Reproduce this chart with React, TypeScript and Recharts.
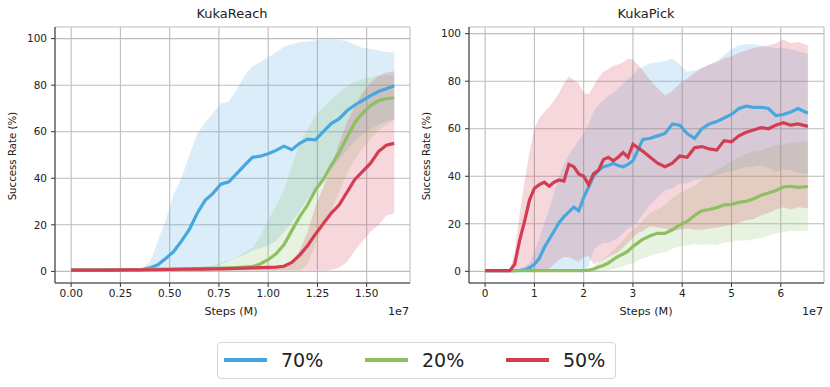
import React from 'react';
import { ComposedChart, Area, Line, XAxis, YAxis, CartesianGrid } from 'recharts';

const BLUE = '#47a7df';
const GREEN = '#8cc063';
const RED = '#d33c52';
const FONT = 'DejaVu Sans, Verdana, sans-serif';

const seriesNames = ['70%', '20%', '50%'];
const seriesColors = [BLUE, GREEN, RED];

const yTicks = [0, 20, 40, 60, 80, 100];
const reachXTicks = [0, 0.25, 0.5, 0.75, 1.0, 1.25, 1.5];
const pickXTicks = [0, 1, 2, 3, 4, 5, 6];

// ---- KukaReach (steps in 1e7) ----
const reachX = [0, 0.1, 0.2, 0.3, 0.36, 0.4, 0.44, 0.48, 0.52, 0.56, 0.6, 0.64, 0.68, 0.72, 0.76, 0.8, 0.84, 0.88, 0.92, 0.96, 1.0, 1.04, 1.08, 1.12, 1.16, 1.2, 1.24, 1.28, 1.32, 1.36, 1.4, 1.44, 1.48, 1.52, 1.56, 1.6, 1.64];
const reachMean70 = [0.5, 0.5, 0.6, 0.7, 0.8, 1.5, 2.8, 5.5, 8.5, 13, 18, 25, 30.5, 33.5, 37.5, 38.5, 42, 45.5, 49, 49.5, 50.5, 52, 53.8, 52.3, 55, 56.8, 56.5, 60, 63.5, 65.5, 69, 71.5, 73.5, 75.5, 77.3, 78.5, 79.8];
const reachHigh70 = [0.5, 0.5, 0.6, 0.8, 1.2, 4, 13, 22, 33, 40, 50, 59, 64, 68, 72, 73, 78, 84, 88, 90, 92, 94, 96.5, 97.5, 98.5, 98.8, 99.3, 99.5, 99.6, 99.4, 99, 97.5, 96, 95.5, 95, 94.3, 94];
const reachLow70 = [0.4, 0.4, 0.4, 0.4, 0.4, 0.4, 0.4, 0.4, 0.4, 0.4, 0.4, 0.4, 0.4, 0.4, 3, 4.5, 6, 7, 9, 10, 11, 13, 17, 21, 26, 31, 36, 40, 44, 48, 52, 56, 59, 61, 63, 64.5, 65];
const reachMean20 = [0.5, 0.5, 0.6, 0.7, 0.8, 0.9, 1.0, 1.0, 1.1, 1.1, 1.2, 1.2, 1.3, 1.3, 1.4, 1.5, 1.6, 1.8, 2.0, 3.2, 5, 7.5, 11.4, 17.5, 23.5, 28.5, 35, 39.5, 45.5, 51, 57.5, 64, 68, 71.3, 73.3, 74.2, 74.5];
const reachHigh20 = [0.5, 0.5, 0.6, 0.7, 0.8, 0.9, 1.0, 1.1, 1.2, 1.2, 1.3, 1.5, 2, 2.5, 3.5, 5, 6, 8, 10, 15, 22, 28, 35, 45, 55, 61, 67, 70.5, 74, 77, 79.5, 81.5, 82.5, 83.5, 84, 84.2, 84.3];
const reachLow20 = [0.4, 0.4, 0.4, 0.4, 0.4, 0.4, 0.4, 0.4, 0.4, 0.4, 0.4, 0.4, 0.4, 0.4, 0.4, 0.4, 0.4, 0.4, 0.4, 0.4, 0.4, 0.4, 0.4, 0.4, 0.4, 3, 12, 19, 26, 34, 42, 48, 53, 57, 60.5, 63, 65];
const reachMean50 = [0.5, 0.5, 0.5, 0.6, 0.6, 0.7, 0.7, 0.8, 0.8, 0.9, 0.9, 1.0, 1.0, 1.1, 1.1, 1.2, 1.3, 1.4, 1.5, 1.6, 1.7, 1.8, 2.2, 3.8, 7, 11, 16, 20.5, 25, 28.5, 34, 39.5, 43, 46.5, 51.5, 54.2, 55];
const reachHigh50 = [0.5, 0.5, 0.5, 0.6, 0.6, 0.7, 0.7, 0.8, 0.8, 0.9, 0.9, 1.0, 1.0, 1.1, 1.1, 1.2, 1.3, 1.4, 1.5, 1.6, 1.7, 1.8, 2.5, 4, 9, 17, 28, 36, 45, 55, 64, 71, 77, 81, 84, 85.5, 86];
const reachLow50 = [0.4, 0.4, 0.4, 0.4, 0.4, 0.4, 0.4, 0.4, 0.4, 0.4, 0.4, 0.4, 0.4, 0.4, 0.4, 0.4, 0.4, 0.4, 0.4, 0.4, 0.4, 0.4, 0.4, 0.4, 0.4, 0.4, 0.4, 0.4, 0.6, 1.5, 4, 9, 13, 17, 20, 24, 25];

// ---- KukaPick (steps in 1e7) ----
const pickX = [0, 0.25, 0.5, 0.6, 0.7, 0.8, 0.9, 1.0, 1.1, 1.2, 1.3, 1.4, 1.5, 1.6, 1.7, 1.8, 1.9, 2.0, 2.1, 2.2, 2.3, 2.4, 2.5, 2.6, 2.7, 2.8, 2.9, 3.0, 3.1, 3.2, 3.35, 3.5, 3.65, 3.8, 3.95, 4.1, 4.25, 4.4, 4.55, 4.7, 4.85, 5.0, 5.15, 5.3, 5.45, 5.6, 5.75, 5.9, 6.05, 6.2, 6.35, 6.55];
const pickMean70 = [0.3, 0.3, 0.3, 0.3, 0.4, 0.6, 1.5, 3, 5.5, 10, 13.5, 17, 20.5, 23, 25, 27, 25.5, 31, 35.5, 40, 42.5, 44, 44.5, 45.5, 44.5, 44, 45, 46.5, 51, 55.5, 56, 57, 58, 62, 61.5, 58, 56, 60, 62, 63, 64.5, 66, 68.5, 69.5, 69, 69, 68.5, 65.5, 66, 67, 68.5, 66.5];
const pickHigh70 = [0.3, 0.3, 0.3, 0.5, 1, 2, 3.5, 8, 14, 20, 26, 33, 40, 45, 49, 52, 55, 58, 62, 67, 70, 72, 74, 75, 77, 79, 81, 82.5, 85, 86, 87.5, 88, 88.5, 89.5, 87, 84, 84.5, 85.5, 87, 88.5, 91, 93.5, 95, 95.5, 95.5, 95, 94.5, 94, 94, 93.5, 92.5, 91.5];
const pickLow70 = [0.2, 0.2, 0.2, 0.2, 0.2, 0.2, 0.2, 0.2, 0.2, 0.2, 0.2, 0.2, 0.2, 0.2, 0.2, 0.2, 0.2, 0.5, 2, 9, 11, 12, 12, 13, 14, 16, 18, 19, 21, 24, 28, 31, 34, 35, 37, 37, 38.5, 39, 40, 40.5, 41.5, 42, 43, 44, 44, 44.5, 43.5, 42, 43, 42.5, 41.5, 41];
const pickMean20 = [0.3, 0.3, 0.3, 0.3, 0.3, 0.3, 0.3, 0.3, 0.3, 0.3, 0.3, 0.3, 0.3, 0.3, 0.3, 0.3, 0.3, 0.3, 0.5, 1, 1.8, 2.5, 3.5, 5, 6.3, 7.3, 8.5, 10.5, 12, 13.5, 15, 16, 16, 17.5, 19.5, 21, 23.5, 25.5, 26, 26.8, 28, 28.2, 29, 29.5, 30.5, 32, 33, 34, 35.5, 35.8, 35.3, 35.7];
const pickHigh20 = [0.3, 0.3, 0.3, 0.3, 0.3, 0.3, 0.3, 0.3, 0.3, 0.3, 0.3, 0.3, 0.3, 0.3, 0.3, 0.3, 0.3, 0.3, 0.5, 2, 4, 5.5, 7, 9, 11, 13, 15.5, 17.5, 19, 21.5, 24.5, 26, 28, 31, 33, 34.5, 36, 38.5, 41, 42.5, 44.5, 46.5, 48, 49.5, 50.5, 51, 52, 53, 53.5, 54, 54.5, 54.5];
const pickLow20 = [0.2, 0.2, 0.2, 0.2, 0.2, 0.2, 0.2, 0.2, 0.2, 0.2, 0.2, 0.2, 0.2, 0.2, 0.2, 0.2, 0.2, 0.2, 0.2, 0.2, 0.2, 0.2, 0.5, 1, 1.5, 2, 3, 3.5, 4.5, 5.5, 6.5, 7.5, 8, 9.5, 10.5, 11, 11.5, 11, 11.5, 11, 12, 12.5, 13, 13, 13.5, 14, 15, 16, 16.5, 17, 17, 17];
const pickMean50 = [0.3, 0.3, 0.3, 3, 13, 21, 30, 35, 36.5, 37.5, 35.8, 37.5, 38.5, 38, 45, 44, 41, 40, 36.5, 41, 42.5, 47, 48, 46.5, 48, 50, 48, 53.5, 52, 50.5, 48, 45.5, 44, 45.5, 48.5, 48, 52, 52.5, 51.5, 51, 55, 54.5, 57, 58.5, 59.5, 60.5, 60, 61.5, 62.5, 61.5, 62, 61];
const pickHigh50 = [0.3, 0.3, 0.5, 8, 24, 38, 50, 60, 64.5, 67, 69, 72, 75, 79, 82, 80.5, 79, 75, 74.5, 78, 81.5, 84, 85, 86.5, 87, 88, 89.5, 89, 87, 84.5, 80.5, 77, 74, 76, 79, 81, 83.5, 85.5, 87, 88, 89.5, 90.5, 92, 93, 94, 94.5, 95, 96, 97.5, 96, 96.5, 95];
const pickLow50 = [0.2, 0.2, 0.2, 0.2, 0.2, 0.2, 0.2, 0.2, 0.2, 0.2, 1, 3, 5, 6, 6, 5, 4, 6, 6.5, 3, 4, 5, 6, 7, 8, 10, 12, 14, 16, 17, 19, 18.5, 18, 17, 17.5, 18, 17.5, 17.5, 18, 18.5, 19, 19.5, 20.5, 21.5, 22, 23.5, 24.5, 26, 27, 26, 27, 26.5];

type Row = { x: number; m70: number; r70: number[]; m20: number; r20: number[]; m50: number; r50: number[] };

function buildRows(xs: number[], m70: number[], lo70: number[], hi70: number[], m20: number[], lo20: number[], hi20: number[], m50: number[], lo50: number[], hi50: number[]): Row[] {
  return xs.map((x, i) => ({
    x,
    m70: m70[i], r70: [lo70[i], hi70[i]],
    m20: m20[i], r20: [lo20[i], hi20[i]],
    m50: m50[i], r50: [lo50[i], hi50[i]],
  }));
}

const reachRows = buildRows(reachX, reachMean70, reachLow70, reachHigh70, reachMean20, reachLow20, reachHigh20, reachMean50, reachLow50, reachHigh50);
const pickRows = buildRows(pickX, pickMean70, pickLow70, pickHigh70, pickMean20, pickLow20, pickHigh20, pickMean50, pickLow50, pickHigh50);

const tickStyle = { fill: '#222', fontSize: 10.5, fontFamily: FONT };

function Panel(props: { rows: Row[]; xDomain: number[]; yDomain: number[]; xTicks: number[]; fmt: (v: number) => string; yWidth: number; right: number }) {
  const { rows, xDomain, yDomain, xTicks, fmt, yWidth, right } = props;
  const keys = [['r70', 'm70'], ['r20', 'm20'], ['r50', 'm50']];
  return (
    <ComposedChart width={415} height={330} data={rows} margin={{ top: 27, right, bottom: 27, left: 0 }}>
      <CartesianGrid stroke="#bdbdbd" strokeWidth={1.1} />
      <XAxis dataKey="x" type="number" domain={xDomain} ticks={xTicks} interval={0} allowDataOverflow tickFormatter={fmt}
        height={20} tickSize={4} tickMargin={3} stroke="#333" tick={tickStyle} />
      <YAxis type="number" domain={yDomain} ticks={yTicks} interval={0} allowDataOverflow width={yWidth}
        tickSize={4} tickMargin={4} stroke="#333" tick={tickStyle} />
      <XAxis xAxisId="top" orientation="top" type="number" domain={xDomain} allowDataOverflow height={0} tick={false} tickLine={false} stroke="#333" />
      <YAxis yAxisId="right" orientation="right" type="number" domain={yDomain} allowDataOverflow width={0} tick={false} tickLine={false} stroke="#333" />
      {keys.map(([r], i) => (
        <Area key={r} dataKey={r} type="linear" stroke="none" fill={seriesColors[i]} fillOpacity={0.2} isAnimationActive={false} activeDot={false} />
      ))}
      {keys.map(([, m], i) => (
        <Line key={m} dataKey={m} type="linear" stroke={seriesColors[i]} strokeWidth={3.2} dot={false} activeDot={false} isAnimationActive={false} />
      ))}
    </ComposedChart>
  );
}

const txt: React.CSSProperties = { position: 'absolute', fontFamily: FONT, color: '#222', lineHeight: 1, whiteSpace: 'nowrap' };

export default function App() {
  return (
    <div style={{ position: 'absolute', left: 0, top: 0, width: 830, height: 387, background: '#fff', overflow: 'hidden' }}>
      <div style={{ position: 'absolute', left: 0, top: 0 }}>
        <Panel rows={reachRows} xDomain={[-0.082, 1.72]} yDomain={[-5, 105]} xTicks={reachXTicks} fmt={(v) => v.toFixed(2)} yWidth={55} right={5} />
      </div>
      <div style={{ position: 'absolute', left: 415, top: 0 }}>
        <Panel rows={pickRows} xDomain={[-0.3275, 6.8775]} yDomain={[-4.9, 102.8]} xTicks={pickXTicks} fmt={(v) => String(v)} yWidth={54} right={6} />
      </div>

      <div style={{ ...txt, left: 132, width: 200, top: 7, textAlign: 'center', fontSize: 13 }}>KukaReach</div>
      <div style={{ ...txt, left: 546, width: 200, top: 7, textAlign: 'center', fontSize: 13 }}>KukaPick</div>

      <div style={{ ...txt, left: 131, width: 200, top: 306, textAlign: 'center', fontSize: 11.2 }}>Steps (M)</div>
      <div style={{ ...txt, left: 546, width: 200, top: 306, textAlign: 'center', fontSize: 11.2 }}>Steps (M)</div>
      <div style={{ ...txt, left: 388, top: 306, fontSize: 11.2 }}>1e7</div>
      <div style={{ ...txt, left: 802, top: 306, fontSize: 11.2 }}>1e7</div>

      <div style={{ ...txt, left: 13 - 80, width: 160, top: 156 - 5, textAlign: 'center', fontSize: 10.2, transform: 'rotate(-90deg)' }}>Success Rate (%)</div>
      <div style={{ ...txt, left: 427 - 80, width: 160, top: 156 - 5, textAlign: 'center', fontSize: 10.2, transform: 'rotate(-90deg)' }}>Success Rate (%)</div>

      <div style={{ position: 'absolute', left: 217, top: 342, width: 399, height: 37, boxSizing: 'border-box', border: '1px solid #d6d6d6', borderRadius: 4 }}>
        {seriesNames.map((name, i) => (
          <div key={name} style={{ position: 'absolute', left: 6 + i * 141, top: 0, height: 35 }}>
            <div style={{ position: 'absolute', left: 0, top: 15, width: 43, height: 3.5, background: seriesColors[i] }} />
            <div style={{ ...txt, left: 57, top: 8, fontSize: 19 }}>{name}</div>
          </div>
        ))}
      </div>
    </div>
  );
}
